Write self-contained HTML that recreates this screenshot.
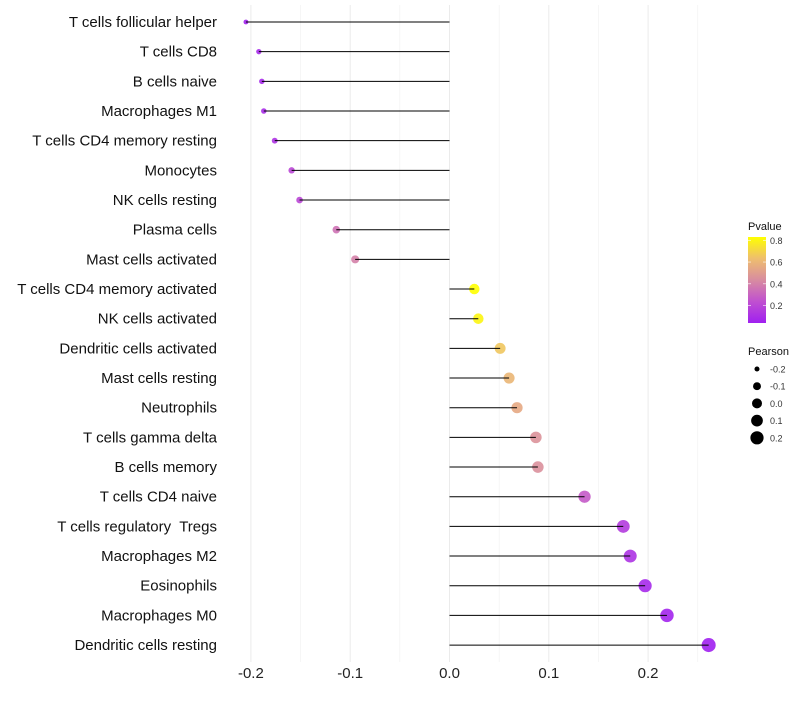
<!DOCTYPE html>
<html><head><meta charset="utf-8"><style>
body{margin:0;background:#fff;font-family:"Liberation Sans",sans-serif;}
text{white-space:pre;}
</style></head><body>
<svg id="chart" width="800" height="700" xmlns="http://www.w3.org/2000/svg"></svg>
<script>
const categories=["T cells follicular helper","T cells CD8","B cells naive","Macrophages M1","T cells CD4 memory resting","Monocytes","NK cells resting","Plasma cells","Mast cells activated","T cells CD4 memory activated","NK cells activated","Dendritic cells activated","Mast cells resting","Neutrophils","T cells gamma delta","B cells memory","T cells CD4 naive","T cells regulatory  Tregs","Macrophages M2","Eosinophils","Macrophages M0","Dendritic cells resting"];
const pearson=[-0.205,-0.192,-0.189,-0.187,-0.176,-0.159,-0.151,-0.114,-0.095,0.025,0.029,0.051,0.060,0.068,0.087,0.089,0.136,0.175,0.182,0.197,0.219,0.261];
const pvalues=[0.05,0.08,0.08,0.09,0.12,0.2,0.2,0.35,0.4,0.84,0.8,0.66,0.6,0.55,0.46,0.45,0.27,0.15,0.12,0.08,0.06,0.03];
const xTicks=[-0.2,-0.1,0.0,0.1,0.2];
const xTickLabels=["-0.2","-0.1","0.0","0.1","0.2"];
const xMinor=[-0.15,-0.05,0.05,0.15,0.25];
const pLegendTicks=[0.2,0.4,0.6,0.8];
const sizeLegend=[-0.2,-0.1,0.0,0.1,0.2];

const svg=document.getElementById('chart');
const NS="http://www.w3.org/2000/svg";
const x=v=>449.5+v*993;
const y=i=>22+i*29.67;
const r=v=>Math.sqrt(Math.max(2,25+93*v));
const pMin=0.04,pMax=0.83;
const stops=[[0,[160,32,240]],[0.25,[192,80,208]],[0.5,[216,140,160]],[0.75,[238,190,110]],[1,[255,255,0]]];
function col(p){let t=Math.min(1,Math.max(0,(p-pMin)/(pMax-pMin)));
 for(let k=1;k<stops.length;k++){if(t<=stops[k][0]){const a=stops[k-1],b=stops[k];const f=(t-a[0])/(b[0]-a[0]);
  return 'rgb('+a[1].map((c,j)=>Math.round(c+(b[1][j]-c)*f)).join(',')+')';}}return 'rgb(255,255,0)';}
function el(tag,attrs,parent){const e=document.createElementNS(NS,tag);for(const k in attrs)e.setAttribute(k,attrs[k]);(parent||svg).appendChild(e);return e;}

xMinor.forEach(v=>{const g=el('line',{x1:x(v),x2:x(v),y1:5,y2:662,stroke:'#f0f0f0','stroke-width':0.6});

});
xTicks.forEach((v,i)=>{const g=el('line',{x1:x(v),x2:x(v),y1:5,y2:662,stroke:'#ebebeb','stroke-width':1});


const t=el('text',{x:x(v),y:678,'text-anchor':'middle','font-size':15,fill:'#222'});t.textContent=xTickLabels[i];

});

categories.forEach((c,i)=>{
 const t=el('text',{x:217,y:y(i)+5,'text-anchor':'end','font-size':15,fill:'#111'});t.textContent=c;
 
 
 const p=el('circle',{cx:x(pearson[i]),cy:y(i),r:r(pearson[i]),fill:col(pvalues[i]),'fill-opacity':0.9});
 
 
 const l=el('line',{x1:x(0),x2:x(pearson[i]),y1:y(i),y2:y(i),stroke:'#000','stroke-width':1});
 
 
});

const defs=el('defs',{});const lg=el('linearGradient',{id:'pg',x1:0,y1:1,x2:0,y2:0},defs);
stops.forEach(s=>el('stop',{offset:s[0],'stop-color':'rgb('+s[1].join(',')+')'},lg));
const lt=el('text',{x:748,y:230,'font-size':11,fill:'#111'});lt.textContent='Pvalue';


const bar=el('rect',{x:748,y:237,width:18,height:86,fill:'url(#pg)'});


const ly=p=>323-(p-pMin)/(pMax-pMin)*86;
pLegendTicks.forEach(p=>{
 el('line',{x1:748,x2:751,y1:ly(p),y2:ly(p),stroke:'#fff','stroke-width':0.6});
 el('line',{x1:763,x2:766,y1:ly(p),y2:ly(p),stroke:'#fff','stroke-width':0.6});
 const t=el('text',{x:770,y:ly(p)+3.5,'font-size':9,fill:'#333'});t.textContent=p.toFixed(1);
 
 });
const st=el('text',{x:748,y:355,'font-size':11,fill:'#111'});st.textContent='Pearson';


sizeLegend.forEach((v,i)=>{const yy=369+i*17.2;
 const c=el('circle',{cx:757,cy:yy,r:r(v),fill:'#000'});
 
 
 const t=el('text',{x:770,y:yy+3.5,'font-size':9,fill:'#333'});t.textContent=v.toFixed(1);
 
 });
</script>
</body></html>
